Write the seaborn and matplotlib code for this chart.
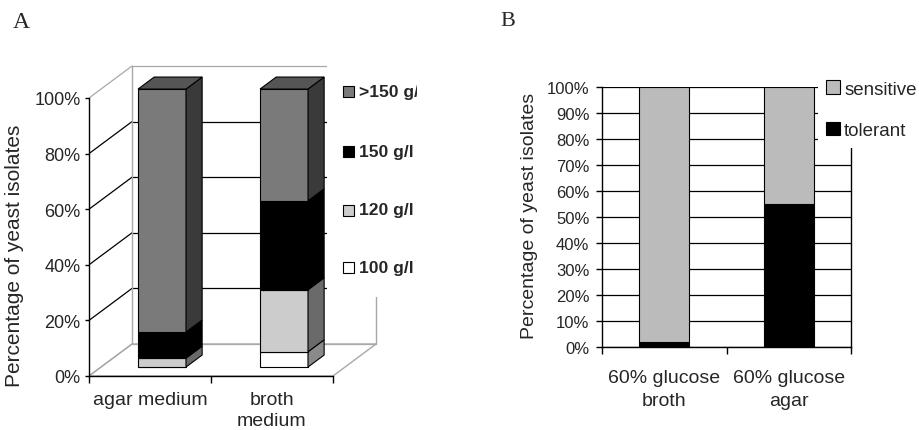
import numpy as np
import matplotlib
matplotlib.use("Agg")
import matplotlib.pyplot as plt
import seaborn as sns
from matplotlib.patches import Polygon, Rectangle, Patch

# ---------------- data ----------------
media_a = ["agar medium", "broth\nmedium"]
levels_a = ["100 g/l", "120 g/l", "150 g/l", ">150 g/l"]
pct_100 = [0.0, 5.5]
pct_120 = [3.2, 22.3]
pct_150 = [9.4, 32.0]
pct_gt150 = [87.4, 40.2]
yticks_a = [0, 20, 40, 60, 80, 100]

media_b = ["60% glucose\nbroth", "60% glucose\nagar"]
series_b = ["tolerant", "sensitive"]
tolerant = [1.8, 55.0]
sensitive = [98.2, 45.0]
yticks_b = [0, 10, 20, 30, 40, 50, 60, 70, 80, 90, 100]

# ---------------- style ----------------
sns.set_style("white")
plt.rcParams["font.family"] = ["Liberation Sans", "DejaVu Sans"]

W, H = 919, 431
fig = plt.figure(figsize=(W / 100, H / 100), dpi=100)


def px_axes(l, r, t, b):
    return fig.add_axes([l / W, 1 - b / H, (r - l) / W, (b - t) / H])


# ================= Panel A (3-D look stacked bars) =================
axA = px_axes(89, 417, 60, 377)
PX_CAT, PX_PCT = 122.0, 2.78
XMAX = -0.5 + 328 / PX_CAT
axA.set_xlim(-0.5, XMAX)
axA.set_ylim(0, 317 / PX_PCT)
DX, DY = 43 / PX_CAT, 32 / PX_PCT          # depth of the chart box
f_front, f_depth, bar_w = 0.28, 0.375, 0.393
grey = "#a8a8a8"
x0, x1 = -0.5, 1.5

# floor
axA.add_patch(Polygon([(x0, 0), (x1, 0), (x1 + DX, DY), (x0 + DX, DY)],
                      closed=True, fill=False, ec=grey, lw=1, zorder=1))
# side wall diagonals + back wall lines
for v in yticks_a:
    c = "black" if 0 < v < 100 else grey
    axA.plot([x0, x0 + DX], [v, v + DY], color=c, lw=0.9, zorder=1)
    axA.plot([x0 + DX, x1 + DX], [v + DY, v + DY], color=c, lw=0.9, zorder=1)
axA.plot([x0 + DX, x0 + DX], [DY, 100 + DY], color=grey, lw=1, zorder=1)
axA.plot([x1 + DX, x1 + DX], [DY, 100 + DY], color=grey, lw=1, zorder=1)
# legend box background (covers the upper right of the back wall)
lx = -0.5 + (327 - 89) / PX_CAT
ly = (377 - 298) / PX_PCT
axA.add_patch(Rectangle((lx, ly), 5, 200, fc="white", ec="none", zorder=2))

front_cols = ["#ffffff", "#cccccc", "#000000", "#7a7a7a"]
side_cols = ["#8a8a8a", "#6a6a6a", "#000000", "#3a3a3a"]
top_cols = ["#d8d8d8", "#999999", "#000000", "#555555"]
segs = [pct_100, pct_120, pct_150, pct_gt150]

xs = np.arange(len(media_a)) + f_front * DX
base = f_front * DY
bdx, bdy = f_depth * DX, f_depth * DY
cum = np.zeros(len(media_a))
for k, vals in enumerate(segs):
    vals = np.asarray(vals, dtype=float)
    sns.barplot(x=xs, y=vals, orient="x", native_scale=True, width=bar_w,
                bottom=base + cum, color=front_cols[k], saturation=1,
                edgecolor="black", linewidth=0.8, errorbar=None, ax=axA, zorder=3)
    for i in range(len(xs)):
        if vals[i] <= 0:
            continue
        xr = xs[i] + bar_w / 2
        c0, c1 = base + cum[i], base + cum[i] + vals[i]
        axA.add_patch(Polygon([(xr, c0), (xr + bdx, c0 + bdy), (xr + bdx, c1 + bdy), (xr, c1)],
                              closed=True, fc=side_cols[k], ec="black", lw=0.8, zorder=3))
    cum = cum + vals
# top faces
for i in range(len(xs)):
    top_k = max(k for k in range(len(segs)) if segs[k][i] > 0)
    xl, xr = xs[i] - bar_w / 2, xs[i] + bar_w / 2
    t = base + cum[i]
    axA.add_patch(Polygon([(xl, t), (xl + bdx, t + bdy), (xr + bdx, t + bdy), (xr, t)],
                          closed=True, fc=top_cols[top_k], ec="black", lw=0.8, zorder=3))

axA.set_xlim(-0.5, XMAX)
axA.set_ylim(0, 317 / PX_PCT)
for s in ["top", "right"]:
    axA.spines[s].set_visible(False)
axA.spines["left"].set_bounds(0, 100)
axA.spines["bottom"].set_bounds(x0, x1)
for s in ["left", "bottom"]:
    axA.spines[s].set_color("black")
    axA.spines[s].set_linewidth(1)
axA.set_yticks(yticks_a)
axA.set_yticklabels([f"{v}%" for v in yticks_a])
axA.set_xticks([x0, 0.5, x1])
axA.set_xticklabels(["", "", ""])
axA.set_xticks([0, 1], minor=True)
axA.set_xticklabels(media_a, minor=True, fontsize=14, linespacing=1.3)
axA.tick_params(axis="y", left=True, length=3, width=1, pad=3, labelsize=13, color="black")
axA.tick_params(axis="x", which="major", bottom=True, length=5, width=1, color="black")
axA.tick_params(axis="x", which="minor", bottom=True, length=0, pad=11)
axA.set_xlabel("")
axA.set_ylabel("")
axA.set_facecolor("none")

# legend A (drawn manually so the long label is clipped like the original)
leg_y = [92, 152, 211, 268]
for k, yc in zip(range(len(levels_a) - 1, -1, -1), leg_y):
    ax_y = (377 - yc) / 317
    axA.add_patch(Rectangle(((343 - 89) / 328, ax_y - 5.5 / 317), 11 / 328, 11 / 317,
                            transform=axA.transAxes, fc=front_cols[k], ec="black",
                            lw=0.8, zorder=4, clip_on=False))
    axA.text((359 - 89) / 328, ax_y, levels_a[k], transform=axA.transAxes,
             fontsize=12.6, fontweight="bold", va="center", ha="left", clip_on=True, zorder=4)

fig.text(15 / W, 1 - 256 / H, "Percentage of yeast isolates", rotation=90,
         ha="center", va="center", fontsize=15)
fig.text(21 / W, 1 - 22 / H, "A", family=["Liberation Serif"], fontsize=17,
         ha="center", va="center")

# ================= Panel B =================
axB = px_axes(602, 851, 88, 348)
col_b = {"tolerant": "#000000", "sensitive": "#bbbbbb"}
cumb = np.zeros(len(media_b))
for name, vals in zip(series_b, [tolerant, sensitive]):
    vals = np.asarray(vals, dtype=float)
    sns.barplot(x=media_b, y=vals, orient="x", width=0.4, bottom=cumb,
                color=col_b[name], saturation=1, edgecolor="black", linewidth=0.8,
                errorbar=None, ax=axB, zorder=3)
    cumb = cumb + vals

axB.set_xlim(-0.5, 1.5)
axB.set_ylim(0, 100)
axB.set_axisbelow(True)
axB.set_yticks(yticks_b)
axB.set_yticklabels([f"{v}%" for v in yticks_b])
axB.yaxis.grid(True, color="black", lw=0.9)
axB.xaxis.grid(False)
axB.spines["top"].set_visible(False)
for s in ["left", "bottom", "right"]:
    axB.spines[s].set_visible(True)
    axB.spines[s].set_color("black")
    axB.spines[s].set_linewidth(1)
axB.set_xticks([-0.5, 0.5, 1.5])
axB.set_xticklabels(["", "", ""])
axB.set_xticks([0, 1], minor=True)
axB.set_xticklabels(media_b, minor=True, fontsize=14, linespacing=1.45)
axB.tick_params(axis="y", left=True, length=4, width=1, pad=5, labelsize=12, color="black")
axB.tick_params(axis="x", which="major", bottom=True, length=5, width=1, color="black")
axB.tick_params(axis="x", which="minor", bottom=True, length=0, pad=16)
axB.set_xlabel("")
axB.set_ylabel("")

handles = [Patch(fc=col_b["sensitive"], ec="black", lw=0.8, label="sensitive"),
           Patch(fc=col_b["tolerant"], ec="black", lw=0.8, label="tolerant")]
axB.legend(handles=handles, loc="upper left",
           bbox_to_anchor=((818 - 602) / 249, (348 - 73) / 260),
           frameon=True, facecolor="white", edgecolor="none", framealpha=1,
           fancybox=False, fontsize=13.5, handlelength=0.7, handleheight=0.7,
           handletextpad=0.25, labelspacing=1.3, borderpad=0.45, borderaxespad=0)

fig.text(529 / W, 1 - 216 / H, "Percentage of yeast isolates", rotation=90,
         ha="center", va="center", fontsize=14)
fig.text(508 / W, 1 - 22 / H, "B", family=["Liberation Serif"], fontsize=16,
         ha="center", va="center")

fig.savefig("out.png", dpi=100, facecolor="white")
